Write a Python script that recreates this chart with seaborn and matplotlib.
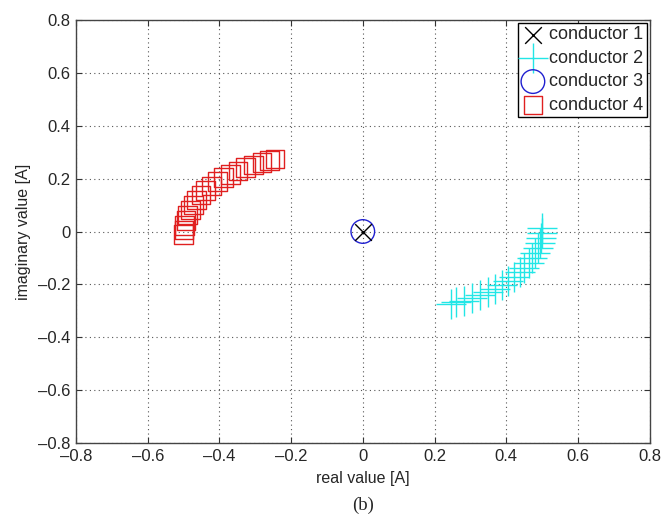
import matplotlib
matplotlib.use("Agg")
import matplotlib.pyplot as plt
import seaborn as sns
import pandas as pd

# data
c1_re = [0.0]
c1_im = [0.0]
c3_re = [0.0]
c3_im = [0.0]
c4_re = [-0.500, -0.499, -0.497, -0.493, -0.488, -0.481, -0.473, -0.463, -0.451, -0.438,
         -0.423, -0.406, -0.388, -0.369, -0.348, -0.327, -0.304, -0.281, -0.261, -0.245]
c4_im = [-0.012, 0.006, 0.024, 0.043, 0.062, 0.081, 0.100, 0.119, 0.138, 0.155,
         0.172, 0.188, 0.203, 0.217, 0.229, 0.241, 0.252, 0.261, 0.268, 0.274]
c2_re = [0.500, 0.499, 0.497, 0.493, 0.488, 0.481, 0.473, 0.463, 0.451, 0.438,
         0.423, 0.406, 0.388, 0.369, 0.348, 0.327, 0.304, 0.281, 0.261, 0.245]
c2_im = [0.012, -0.006, -0.024, -0.043, -0.062, -0.081, -0.100, -0.119, -0.138, -0.155,
         -0.172, -0.188, -0.203, -0.217, -0.229, -0.241, -0.252, -0.261, -0.268, -0.274]
labels = ["conductor 1", "conductor 2", "conductor 3", "conductor 4"]
ticks = [-0.8, -0.6, -0.4, -0.2, 0, 0.2, 0.4, 0.6, 0.8]

sns.set_style("ticks")
plt.rcParams['font.family'] = ['Liberation Sans', 'DejaVu Sans']
plt.rcParams['axes.unicode_minus'] = True

fig = plt.figure(figsize=(6.66, 5.17), dpi=100)
ax = fig.add_axes([76/666, (517-443)/517, (649.6-76)/666, (443-20)/517])

df1 = pd.DataFrame({"re": c1_re, "im": c1_im})
df2 = pd.DataFrame({"re": c2_re, "im": c2_im})
df3 = pd.DataFrame({"re": c3_re, "im": c3_im})
df4 = pd.DataFrame({"re": c4_re, "im": c4_im})

sns.scatterplot(data=df1, x="re", y="im", ax=ax, marker="x", s=12**2,
                color="black", linewidth=1.0, label=labels[0], zorder=4)
sns.scatterplot(data=df2, x="re", y="im", ax=ax, marker="+", s=22**2,
                color="#22e6e6", linewidth=1.0, label=labels[1], zorder=3)
sns.scatterplot(data=df3, x="re", y="im", ax=ax, marker="o", s=17**2,
                facecolor="none", edgecolor="#2020d0", linewidth=1.0, label=labels[2], zorder=3)
sns.scatterplot(data=df4, x="re", y="im", ax=ax, marker="s", s=13.5**2,
                facecolor="none", edgecolor="#e02020", linewidth=1.0, label=labels[3], zorder=3)

ax.set_xlim(-0.8, 0.8)
ax.set_ylim(-0.8, 0.8)
ax.set_xticks(ticks)
ax.set_yticks(ticks)
ax.set_xticklabels([f"{t:g}".replace("-", "\u2013") for t in ticks])
ax.set_yticklabels([f"{t:g}".replace("-", "\u2013") for t in ticks])
ax.grid(True, linestyle=(0, (1, 3)), color="#555555", linewidth=0.8)
ax.set_axisbelow(True)
ax.tick_params(direction="in", top=True, right=True, length=4, labelsize=12,
               color="#333333", pad=4)
for sp in ax.spines.values():
    sp.set_visible(True)
    sp.set_color("#444444")
    sp.set_linewidth(1.0)

ax.set_xlabel("real value [A]", fontsize=11.5, labelpad=5)
ax.set_ylabel("imaginary value [A]", fontsize=11.5, labelpad=5)

leg = ax.legend(loc="upper right", fontsize=13, frameon=True, fancybox=False,
                edgecolor="black", framealpha=1, borderpad=0.2, labelspacing=0.36,
                handletextpad=0.25, handlelength=1.3, borderaxespad=0.15)
leg.get_frame().set_linewidth(1.0)

fig.text(363/666, 1 - 505/517, "(b)", ha="center", va="center", fontsize=13.5,
         family=["Liberation Serif", "DejaVu Serif"])

fig.savefig("out.png", dpi=100)
